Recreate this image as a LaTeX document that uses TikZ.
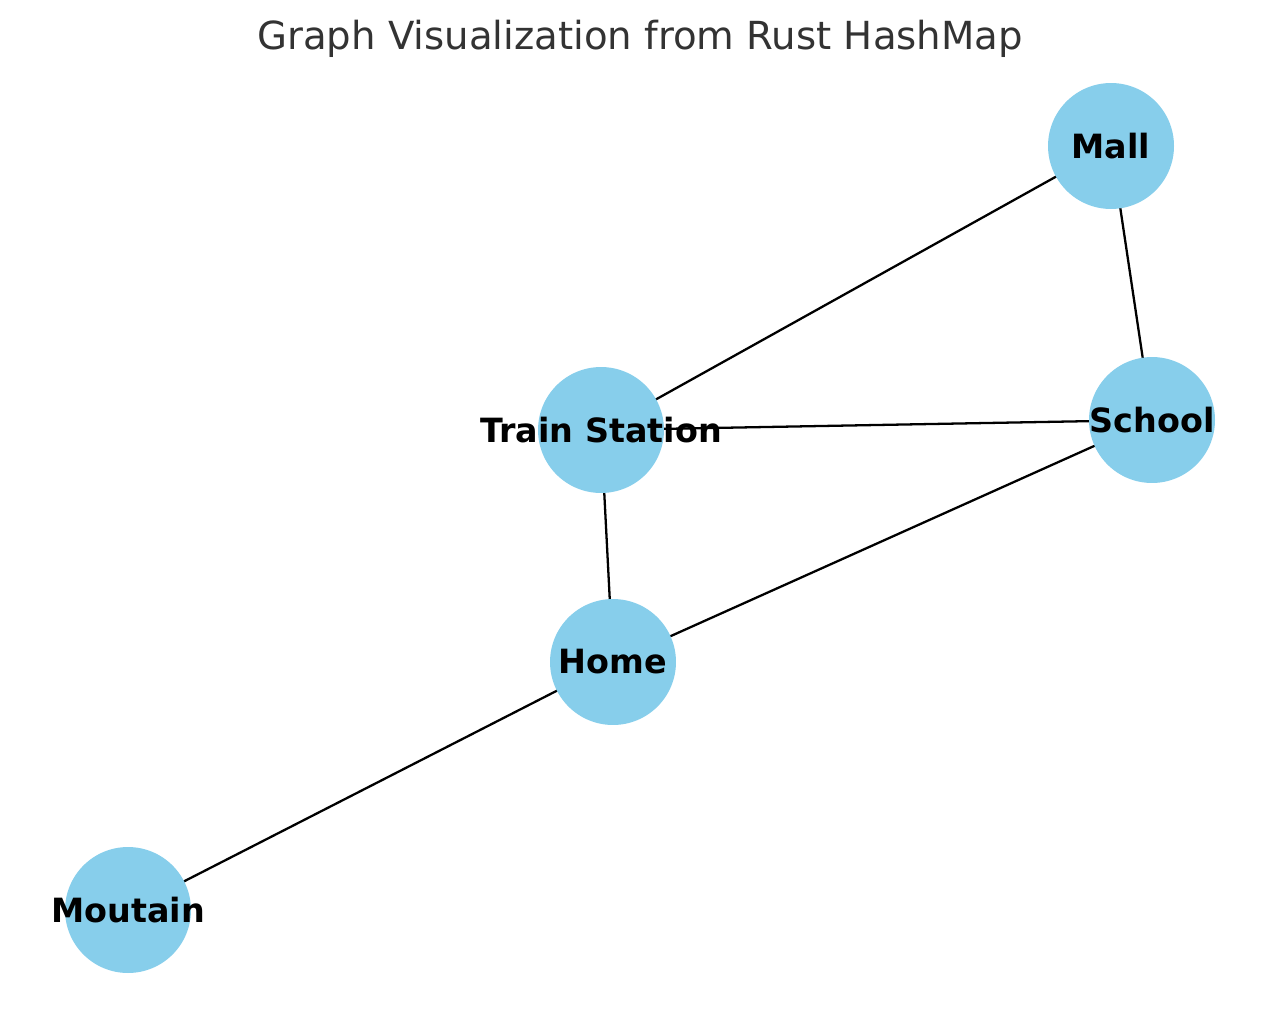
\documentclass[tikz,border=0pt]{standalone}
\usepackage{fontspec}
\setmainfont{DejaVu Sans}
\usepackage{xcolor}
\usepackage{tikz}
\usetikzlibrary{positioning, backgrounds}
\definecolor{skyblue}{RGB}{135, 206, 235}
\definecolor{titlegray}{RGB}{51, 51, 51}
\tikzstyle{place} = [
    circle,
    minimum size=2.52cm,
    inner sep=0pt,
    fill=skyblue
]
\tikzstyle{placename} = [
    text=black,
    inner sep=0pt,
    font=\fontsize{19}{21}\selectfont\bfseries
]
\tikzstyle{edge} = [
    line width=1.3pt,
    color=black
]

\begin{document}
\begin{tikzpicture}[x=0.02cm, y=-0.02cm]
        \useasboundingbox (0, 0) rectangle (1280, 1010);
        % Title
        \node[font=\fontsize{22}{26}\selectfont, text=titlegray, anchor=base] (title) at (640, 50) {Graph Visualization from Rust HashMap};

        % Places
        \node[place, label={[placename]center:Mall}] (mall) at (1111, 146) {};
        \node[place, label={[placename]center:School}] (school) at (1152, 420) {};
        \node[place, label={[placename]center:Train Station}] (station) at (601, 430) {};
        \node[place, label={[placename]center:Home}] (home) at (613, 662) {};
        \node[place, label={[placename]center:Moutain}] (mountain) at (128, 910) {};

        % Edges
        \begin{scope}[on background layer]
            \draw[edge] (mall.center) -- (station.center);
            \draw[edge] (mall.center) -- (school.center);
            \draw[edge] (station.center) -- (school.center);
            \draw[edge] (station.center) -- (home.center);
            \draw[edge] (home.center) -- (school.center);
            \draw[edge] (home.center) -- (mountain.center);
        \end{scope}
    \end{tikzpicture}
\end{document}
